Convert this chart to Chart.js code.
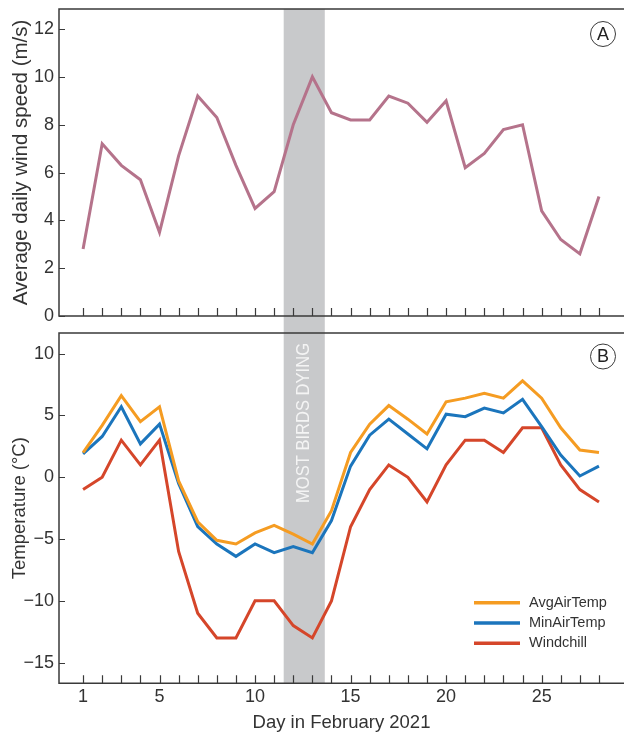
<!DOCTYPE html>
<html>
<head>
<meta charset="utf-8">
<script src="https://cdn.jsdelivr.net/npm/chart.js@4.4.1/dist/chart.umd.min.js"></script>
<style>
  html, body { margin: 0; padding: 0; background: #fff; }
  #wrap { position: relative; width: 624px; height: 734px; }
  canvas { position: absolute; left: 0; }
  #windCanvas { top: 0; }
  #tempCanvas { top: 330px; }
</style>
</head>
<body>
<div id="wrap">
  <canvas id="windCanvas" width="624" height="330"></canvas>
  <canvas id="tempCanvas" width="624" height="404"></canvas>
</div>
<script>
// Data
const days = [1, 2, 3, 4, 5, 6, 7, 8, 9, 10, 11, 12, 13, 14, 15, 16, 17, 18, 19, 20, 21, 22, 23, 24, 25, 26, 27, 28];
const windSpeed = [2.8, 7.2, 6.3, 5.7, 3.5, 6.7, 9.2, 8.3, 6.3, 4.5, 5.2, 8.0, 10.0, 8.5, 8.2, 8.2, 9.2, 8.9, 8.1, 9.0, 6.2, 6.8, 7.8, 8.0, 4.4, 3.2, 2.6, 5.0];
const avgAirTemp = [2.0, 4.2, 6.6, 4.5, 5.7, -0.3, -3.6, -5.1, -5.4, -4.5, -3.9, -4.6, -5.4, -2.7, 2.0, 4.3, 5.8, 4.7, 3.5, 6.1, 6.4, 6.8, 6.4, 7.8, 6.4, 4.0, 2.2, 2.0];
const minAirTemp = [1.9, 3.3, 5.7, 2.7, 4.3, -0.5, -4.0, -5.4, -6.4, -5.4, -6.1, -5.6, -6.1, -3.5, 0.9, 3.4, 4.7, 3.5, 2.3, 5.1, 4.9, 5.6, 5.2, 6.3, 4.1, 1.8, 0.1, 0.9];
const windchill = [-1, 0, 3, 1, 3, -6, -11, -13, -13, -10, -10, -12, -13, -10, -4, -1, 1, 0, -2, 1, 3, 3, 2, 4, 4, 1, -1, -2];

// Tick labels
const dayLabels = [1, 5, 10, 15, 20, 25];
const windTicks = [0, 2, 4, 6, 8, 10, 12];
const tempTicks = [-15, -10, -5, 0, 5, 10];
const tempTickLabels = ['\u221215', '\u221210', '\u22125', '0', '5', '10'];

// Shaded period (days)
const dyingPeriod = [11.5, 13.65];

const FONT = 'Liberation Sans, Arial, Helvetica, sans-serif';
const TEXT = '#333333';
const AXIS = '#3a3a3a';

const toPoints = vals => days.map((d, i) => ({ x: d, y: vals[i] }));

// Band, frame, inward ticks, panel letter, legend
const panelPlugin = {
    id: 'panel',
    beforeDatasetsDraw(chart, args, opts) {
        const { ctx, chartArea, scales: { x } } = chart;
        const x0 = x.getPixelForValue(dyingPeriod[0]);
        const x1 = x.getPixelForValue(dyingPeriod[1]);
        const top = opts.bandFromEdge ? 0 : chartArea.top;
        const bottom = opts.bandToEdge ? chart.height : chartArea.bottom;
        ctx.save();
        ctx.fillStyle = '#c8c9cb';
        ctx.fillRect(x0, top, x1 - x0, bottom - top);
        if (opts.bandText) {
            ctx.translate((x0 + x1) / 2, chartArea.top + 90);
            ctx.rotate(-Math.PI / 2);
            ctx.fillStyle = '#f4f4f4';
            ctx.font = '19px ' + FONT;
            ctx.textAlign = 'center';
            ctx.textBaseline = 'middle';
            // squeeze the text to the length it has in the figure
            const w = ctx.measureText(opts.bandText).width;
            ctx.scale(160 / w, 1);
            ctx.fillText(opts.bandText, 0, 0);
        }
        ctx.restore();
    },
    afterDatasetsDraw(chart, args, opts) {
        const { ctx, chartArea: a, scales: { x, y } } = chart;
        ctx.save();
        ctx.strokeStyle = AXIS;
        ctx.lineWidth = 1.5;
        ctx.beginPath();
        ctx.moveTo(a.right, a.top);
        ctx.lineTo(a.left, a.top);
        ctx.lineTo(a.left, a.bottom);
        ctx.lineTo(a.right, a.bottom);
        ctx.stroke();

        ctx.lineWidth = 1.2;
        ctx.beginPath();
        x.ticks.forEach(t => {
            const px = Math.round(x.getPixelForValue(t.value)) + 0.5;
            ctx.moveTo(px, a.bottom);
            ctx.lineTo(px, a.bottom - 8);
        });
        y.ticks.forEach(t => {
            const py = Math.round(y.getPixelForValue(t.value)) + 0.5;
            ctx.moveTo(a.left, py);
            ctx.lineTo(a.left + 6, py);
        });
        ctx.stroke();

        // panel letter in circle
        const cx = a.right - 21, cy = a.top + opts.letterOffset;
        ctx.lineWidth = 1;
        ctx.beginPath();
        ctx.arc(cx, cy, 12.5, 0, Math.PI * 2);
        ctx.stroke();
        ctx.fillStyle = '#222';
        ctx.font = '18px ' + FONT;
        ctx.textAlign = 'center';
        ctx.textBaseline = 'middle';
        ctx.fillText(opts.letter, cx, cy + 1);

        if (opts.legend) {
            ctx.font = '14.5px ' + FONT;
            ctx.textAlign = 'left';
            chart.data.datasets.forEach((ds, i) => {
                const ly = a.bottom - 80.6 + i * 20.3;
                ctx.strokeStyle = ds.borderColor;
                ctx.lineWidth = 3.5;
                ctx.beginPath();
                ctx.moveTo(474, ly);
                ctx.lineTo(520, ly);
                ctx.stroke();
                ctx.fillStyle = TEXT;
                ctx.fillText(ds.label, 529, ly);
            });
        }
        ctx.restore();
    }
};

function dayScale(showLabels, height) {
    return {
        type: 'linear',
        min: -0.26,
        max: 29.31,
        grid: { display: false, drawTicks: false },
        border: { display: false },
        afterBuildTicks: s => { s.ticks = days.map(v => ({ value: v })); },
        ticks: {
            display: showLabels,
            autoSkip: false,
            maxRotation: 0,
            padding: 3,
            color: TEXT,
            font: { family: FONT, size: 18 },
            callback: v => dayLabels.includes(v) ? String(v) : ''
        },
        title: {
            display: showLabels,
            text: 'Day in February 2021',
            color: TEXT,
            font: { family: FONT, size: 18.5 },
            padding: { top: 0, bottom: 0 }
        },
        afterFit: s => { s.height = height; s.paddingLeft = 0; s.paddingRight = 0; }
    };
}

function valueScale(min, max, tickValues, labels, titleText, titleSize, titlePad) {
    return {
        min: min,
        max: max,
        grid: { display: false, drawTicks: false },
        border: { display: false },
        afterBuildTicks: s => { s.ticks = tickValues.map(v => ({ value: v })); },
        ticks: {
            autoSkip: false,
            padding: 5,
            color: TEXT,
            font: { family: FONT, size: 18 },
            callback: v => labels ? labels[tickValues.indexOf(v)] : String(v)
        },
        title: {
            display: true,
            text: titleText,
            color: TEXT,
            font: { family: FONT, size: titleSize },
            padding: { top: titlePad, bottom: 0 }
        },
        afterFit: s => { s.width = 59; s.paddingTop = 0; s.paddingBottom = 0; }
    };
}

const lineStyle = { borderWidth: 3, pointRadius: 0, tension: 0, fill: false, borderJoinStyle: 'miter' };

new Chart(document.getElementById('windCanvas'), {
    type: 'line',
    data: {
        datasets: [
            Object.assign({ label: 'Wind speed', data: toPoints(windSpeed), borderColor: '#b5738b' }, lineStyle)
        ]
    },
    options: {
        responsive: false,
        animation: false,
        layout: { padding: { top: 9, right: 0, bottom: 0, left: 0 } },
        scales: {
            x: dayScale(false, 14),
            y: valueScale(0, 12.84, windTicks, null, 'Average daily wind speed (m/s)', 20.5, 8.7)
        },
        plugins: {
            legend: { display: false },
            tooltip: { enabled: false },
            panel: { letter: 'A', letterOffset: 25, bandToEdge: true }
        }
    },
    plugins: [panelPlugin]
});

new Chart(document.getElementById('tempCanvas'), {
    type: 'line',
    data: {
        datasets: [
            Object.assign({ label: 'AvgAirTemp', data: toPoints(avgAirTemp), borderColor: '#f59c22' }, lineStyle),
            Object.assign({ label: 'MinAirTemp', data: toPoints(minAirTemp), borderColor: '#1b75bc' }, lineStyle),
            Object.assign({ label: 'Windchill', data: toPoints(windchill), borderColor: '#d5462a' }, lineStyle)
        ]
    },
    options: {
        responsive: false,
        animation: false,
        layout: { padding: { top: 3, right: 0, bottom: 0, left: 0 } },
        scales: {
            x: dayScale(true, 50.7),
            y: valueScale(-16.67, 11.67, tempTicks, tempTickLabels, 'Temperature (\u00b0C)', 18.5, 8.5)
        },
        plugins: {
            legend: { display: false },
            tooltip: { enabled: false },
            panel: { letter: 'B', letterOffset: 23.5, bandFromEdge: true, bandText: 'MOST BIRDS DYING', legend: true }
        }
    },
    plugins: [panelPlugin]
});
</script>
</body>
</html>
